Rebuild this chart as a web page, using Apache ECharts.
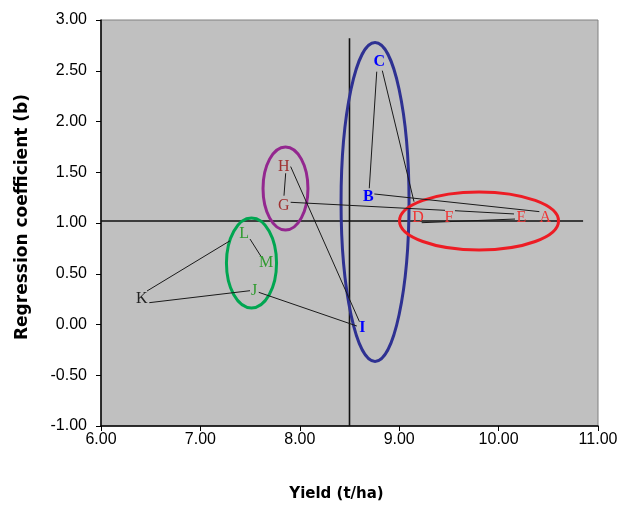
<!DOCTYPE html>
<html>
<head>
<meta charset="utf-8">
<script src="https://cdn.jsdelivr.net/npm/echarts@6/dist/echarts.min.js"></script>
<style>html,body{margin:0;padding:0;background:#fff}#c{width:621px;height:505px}</style>
</head>
<body>
<div id="c"></div>
<script>
// ---- data ----
var xTicks = [6, 7, 8, 9, 10, 11];
var yTicks = [-1, -0.5, 0, 0.5, 1, 1.5, 2, 2.5, 3];
var genotypes = ['A','B','C','D','E','F','G','H','I','J','K','L','M'];
var yieldVals = [10.47, 8.69, 8.80, 9.19, 10.23, 9.50, 7.84, 7.84, 8.63, 7.54, 6.41, 7.44, 7.66];
var bVals     = [1.056, 1.253, 2.583, 1.056, 1.056, 1.056, 1.171, 1.555, -0.037, 0.330, 0.258, 0.892, 0.609];
var groups    = ['red','blue','blue','red','red','red','purple','purple','blue','green','black','green','green'];
// connector segments: [x1, y1, x2, y2]
var segK_L = [6.463, 0.330, 7.298, 0.825];
var segK_J = [6.486, 0.215, 7.499, 0.333];
var segL_M = [7.499, 0.842, 7.607, 0.675];
var segJ_I = [7.587, 0.317, 8.574, -0.015];
var segH_G = [7.858, 1.490, 7.841, 1.269];
var segH_I = [7.908, 1.556, 8.600, 0.028];
var segG_F = [7.908, 1.204, 9.461, 1.125];
var segC_B = [8.774, 2.491, 8.699, 1.342];
var segC_D = [8.830, 2.501, 9.149, 1.210];
var segB_A = [8.750, 1.286, 10.410, 1.112];
var segF_E = [9.561, 1.121, 10.155, 1.089];
var segD_E = [9.226, 1.003, 10.165, 1.039];
var segments = [segK_L, segK_J, segL_M, segJ_I, segH_G, segH_I, segG_F, segC_B, segC_D, segB_A, segF_E, segD_E];
// reference lines
var meanYield = 8.5, vLineTop = 2.82;
var unitB = 1.02, hLineEnd = 10.85;
// ellipses: [cx, cy, rx, ry] in data units
var ellipseBlue   = [8.757, 1.207, 0.342, 1.571];
var ellipseRed    = [9.803, 1.020, 0.800, 0.286];
var ellipsePurple = [7.856, 1.340, 0.226, 0.409];
var ellipseGreen  = [7.514, 0.606, 0.252, 0.443];

// ---- styles ----
var groupStyle = {
  red:    {fill:'#F03434', weight:'normal', ring:'#ED1C24'},
  blue:   {fill:'#0000FF', weight:'bold',   ring:'#2E3192'},
  purple: {fill:'#A03030', weight:'normal', ring:'#93278F'},
  green:  {fill:'#2E9A2E', weight:'normal', ring:'#00A651'},
  black:  {fill:'#222222', weight:'normal', ring:'#000'}
};
var ellipses = [
  {d: ellipseBlue, c: groupStyle.blue.ring},
  {d: ellipseRed, c: groupStyle.red.ring},
  {d: ellipsePurple, c: groupStyle.purple.ring},
  {d: ellipseGreen, c: groupStyle.green.ring}
];

var chart = echarts.init(document.getElementById('c'), null, {renderer:'canvas'});
var axisFont = {fontFamily:'Liberation Sans', fontSize:16, color:'#000'};

var option = {
  animation: false,
  grid: {left:101, right:23, top:20, bottom:79, containLabel:false, outerBoundsMode:'none',
         show:true, backgroundColor:'#C0C0C0', borderColor:'#808080', borderWidth:1},
  xAxis: {
    type:'value', min:xTicks[0], max:xTicks[xTicks.length-1], interval:1,
    axisLine:{show:true, onZero:false, lineStyle:{color:'#000', width:1.5}},
    axisTick:{show:true, length:5, lineStyle:{color:'#000'}},
    splitLine:{show:false},
    axisLabel: Object.assign({margin:6, formatter:function(v){return v.toFixed(2);}}, axisFont),
    name:'Yield (t/ha)', nameLocation:'middle', nameGap:61,
    nameTextStyle:{fontFamily:'DejaVu Sans', fontWeight:'bold', fontSize:15, color:'#000', padding:[0,26,0,0]}
  },
  yAxis: {
    type:'value', min:yTicks[0], max:yTicks[yTicks.length-1], interval:0.5,
    axisLine:{show:true, onZero:false, lineStyle:{color:'#000', width:1.5}},
    axisTick:{show:true, length:5, lineStyle:{color:'#000'}},
    splitLine:{show:false},
    axisLabel: Object.assign({margin:14, formatter:function(v){return v.toFixed(2);}}, axisFont),
    name:'Regression coefficient (b)', nameLocation:'middle', nameGap:70,
    nameTextStyle:{fontFamily:'DejaVu Sans', fontWeight:'bold', fontSize:17, color:'#000', padding:[0,0,0,12]}
  },
  series: [
    {
      type:'custom', name:'refs', silent:true, z:2,
      data:[[meanYield, yTicks[0], meanYield, vLineTop], [xTicks[0], unitB, hLineEnd, unitB]],
      renderItem:function(params, api){
        var p1 = api.coord([api.value(0), api.value(1)]);
        var p2 = api.coord([api.value(2), api.value(3)]);
        return {type:'line', shape:{x1:p1[0], y1:p1[1], x2:p2[0], y2:p2[1]}, style:{stroke:'#111', lineWidth:1.6}};
      }
    },
    {
      type:'custom', name:'ellipses', silent:true, z:3,
      data: ellipses.map(function(e){return e.d;}),
      renderItem:function(params, api){
        var c = api.coord([api.value(0), api.value(1)]);
        var s = api.size([api.value(2), api.value(3)]);
        return {type:'ellipse', shape:{cx:c[0], cy:c[1], rx:s[0], ry:s[1]}, style:{fill:null, stroke:ellipses[params.dataIndex].c, lineWidth:3}};
      }
    },
    {
      type:'custom', name:'links', silent:true, z:4,
      data: segments,
      renderItem:function(params, api){
        var p1 = api.coord([api.value(0), api.value(1)]);
        var p2 = api.coord([api.value(2), api.value(3)]);
        return {type:'line', shape:{x1:p1[0], y1:p1[1], x2:p2[0], y2:p2[1]}, style:{stroke:'#1a1a1a', lineWidth:1}};
      }
    },
    {
      type:'custom', name:'genotypes', silent:true, z:5,
      data: genotypes.map(function(g, i){return [yieldVals[i], bVals[i]];}),
      renderItem:function(params, api){
        var i = params.dataIndex;
        var p = api.coord([api.value(0), api.value(1)]);
        var st = groupStyle[groups[i]];
        return {type:'text', x:p[0], y:p[1], style:{text:genotypes[i], fill:st.fill, align:'center', verticalAlign:'middle',
          font: st.weight + ' 16px "Liberation Serif"'}};
      }
    }
  ]
};
chart.setOption(option);
</script>
</body>
</html>
